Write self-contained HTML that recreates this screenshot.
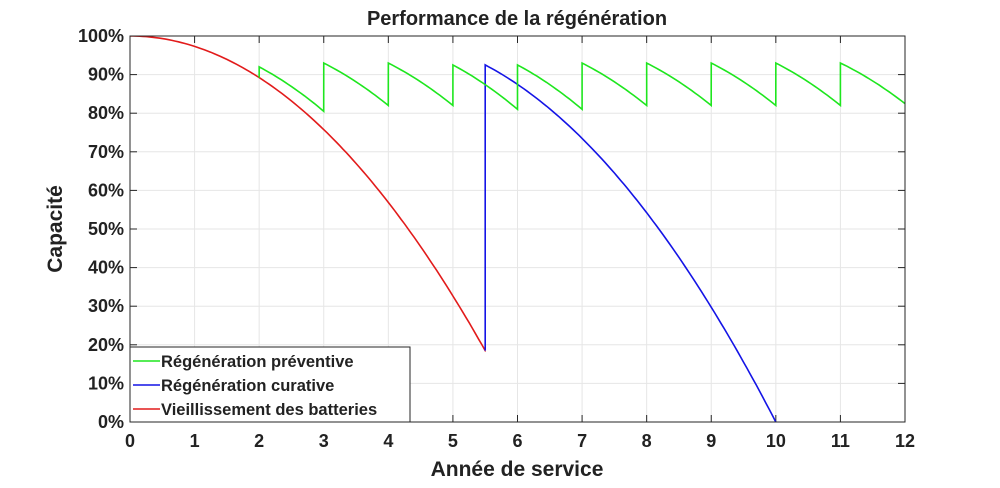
<!DOCTYPE html>
<html><head><meta charset="utf-8"><style>
html,body{margin:0;padding:0;background:#fff;}
svg text{font-family:"Liberation Sans",sans-serif;font-weight:bold;fill:#222;}
</style></head><body>
<svg id="s" width="1000" height="483" xmlns="http://www.w3.org/2000/svg">
<rect width="1000" height="483" fill="#fff"/>
<g id="grid" stroke="#e6e6e6" stroke-width="1"></g>
<g id="ticks" font-size="18"></g>
<clipPath id="c"><rect x="130" y="36" width="775" height="386"/></clipPath>
<g clip-path="url(#c)" fill="none" stroke-width="1.6">
<path id="red" stroke="#e21b1b"/>
<path id="blue" stroke="#1414e6"/>
<path id="green" stroke="#1ee61e"/>
</g>
<rect x="130" y="36" width="775" height="386" fill="none" stroke="#262626" stroke-width="1"/>
<text x="517" y="25" font-size="20" text-anchor="middle">Performance de la régénération</text>
<text x="517" y="476" font-size="21" text-anchor="middle">Année de service</text>
<text transform="translate(62,229) rotate(-90)" font-size="21" text-anchor="middle">Capacité</text>
<g>
<rect x="130" y="347" width="280" height="75" fill="#fff" stroke="#262626" stroke-width="1"/>
<line x1="133" y1="361" x2="160" y2="361" stroke="#1ee61e" stroke-width="1.6"/>
<line x1="133" y1="385" x2="160" y2="385" stroke="#1414e6" stroke-width="1.6"/>
<line x1="133" y1="409" x2="160" y2="409" stroke="#e21b1b" stroke-width="1.6"/>
<text x="161" y="367" font-size="16.5">Régénération préventive</text>
<text x="161" y="391" font-size="16.5">Régénération curative</text>
<text x="161" y="415" font-size="16.5">Vieillissement des batteries</text>
</g>
</svg>
<script>
var X=t=>130+t*64.583, Y=v=>422-v*3.86;
var g=document.getElementById('grid'),tk=document.getElementById('ticks'),ns='http://www.w3.org/2000/svg';
function el(p,tag,a,txt){var e=document.createElementNS(ns,tag);for(var k in a)e.setAttribute(k,a[k]);if(txt!=null)e.textContent=txt;p.appendChild(e);return e;}
for(var i=0;i<=12;i++){var x=X(i);if(i>0&&i<12)el(g,'line',{x1:x,x2:x,y1:36,y2:422});
el(tk,'line',{x1:x,x2:x,y1:422,y2:415,stroke:'#262626'});el(tk,'line',{x1:x,x2:x,y1:36,y2:43,stroke:'#262626'});
el(tk,'text',{x:x,y:447,'text-anchor':'middle'},i);}
for(var v=0;v<=100;v+=10){var y=Y(v);if(v>0&&v<100)el(g,'line',{x1:130,x2:905,y1:y,y2:y});
el(tk,'line',{x1:130,x2:137,y1:y,y2:y,stroke:'#262626'});el(tk,'line',{x1:905,x2:898,y1:y,y2:y,stroke:'#262626'});
el(tk,'text',{x:124,y:y+6,'text-anchor':'end'},v+'%');}
var a=81.5/30.25,d='';
for(var t=0;t<=5.5;t+=0.05)d+=(d?'L':'M')+X(t).toFixed(1)+','+Y(100-a*t*t).toFixed(1);
d+='L'+X(5.5)+','+Y(100-a*30.25);
document.getElementById('red').setAttribute('d',d);
var DB=1.67,b='M'+X(5.5)+','+Y(18.5);
for(var s=0;s<=4.5001;s+=0.05){var f=((s+DB)*(s+DB)-DB*DB)/((4.5+DB)*(4.5+DB)-DB*DB);b+='L'+X(5.5+s).toFixed(1)+','+Y(92.5-92.5*f).toFixed(1);}
document.getElementById('blue').setAttribute('d',b);
var P=[92,93,93,92.5,92.5,93,93,93,93,93],Q=[80.5,82,82,81,81,82,82,82,82,82.5],gp='',D=1.7;
for(var k=0;k<10;k++){var t0=2+k;var p=P[k],q=Q[k];
if(k==0)gp='M'+X(2)+','+Y(89.2);
gp+='L'+X(t0)+','+Y(p);
for(var s=0.05;s<=1.0001;s+=0.05){var f=((s+D)*(s+D)-D*D)/((1+D)*(1+D)-D*D);gp+='L'+X(t0+s).toFixed(1)+','+Y(p-(p-q)*f).toFixed(1);}}
document.getElementById('green').setAttribute('d',gp);
</script>
</body></html>
